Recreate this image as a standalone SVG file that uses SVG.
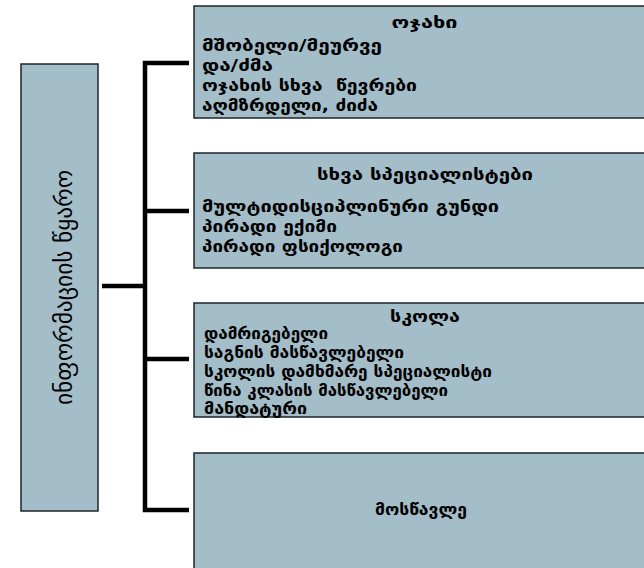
<svg xmlns="http://www.w3.org/2000/svg" width="644" height="568" viewBox="0 0 644 568">
<style>
.box{fill:#a3bdc9;stroke:#1e2428;stroke-width:1.5}
.t{font-family:"DejaVu Sans",sans-serif;font-weight:bold;font-size:16.5px;fill:#000;white-space:pre}
.c{text-anchor:middle}
.side{font-family:"DejaVu Sans",sans-serif;font-size:23px;fill:#000;text-anchor:middle}
.ln{stroke:#000;stroke-width:4.5;fill:none}
</style>
<rect width="644" height="568" fill="#fff"/>
<g id="connectors">
<path class="ln" d="M189,63 H145 V510 H189"/>
<path class="ln" d="M145,211 H189 M145,359 H189 M102,286 H145"/>
</g>
<g id="source">
<rect class="box" x="21" y="64" width="77" height="447"/>
<text class="side" transform="translate(72,287.5) rotate(-90)" textLength="235" lengthAdjust="spacingAndGlyphs">ინფორმაციის წყარო</text>
</g>
<g id="family">
<rect class="box" x="194" y="6" width="460" height="112"/>
<text class="t c" x="424.5" y="28" textLength="66" lengthAdjust="spacingAndGlyphs">ოჯახი</text>
<text class="t" x="202" y="51" textLength="180" lengthAdjust="spacingAndGlyphs">მშობელი/მეურვე</text>
<text class="t" x="202" y="71" textLength="71" lengthAdjust="spacingAndGlyphs">და/ძმა</text>
<text class="t" x="202" y="91" textLength="215" lengthAdjust="spacingAndGlyphs" xml:space="preserve">ოჯახის სხვა  წევრები</text>
<text class="t" x="202" y="111" textLength="176" lengthAdjust="spacingAndGlyphs">აღმზრდელი, ძიძა</text>
</g>
<g id="specialists">
<rect class="box" x="194" y="153" width="460" height="115"/>
<text class="t c" x="425" y="180" textLength="216" lengthAdjust="spacingAndGlyphs">სხვა სპეციალისტები</text>
<text class="t" x="202" y="212" textLength="297" lengthAdjust="spacingAndGlyphs">მულტიდისციპლინური გუნდი</text>
<text class="t" x="202" y="232" textLength="135" lengthAdjust="spacingAndGlyphs">პირადი ექიმი</text>
<text class="t" x="202" y="252" textLength="201" lengthAdjust="spacingAndGlyphs">პირადი ფსიქოლოგი</text>
</g>
<g id="school">
<rect class="box" x="194" y="303" width="460" height="114"/>
<text class="t c" x="425" y="322" textLength="70" lengthAdjust="spacingAndGlyphs">სკოლა</text>
<text class="t" x="204" y="339" textLength="124" lengthAdjust="spacingAndGlyphs">დამრიგებელი</text>
<text class="t" x="204" y="358" textLength="200" lengthAdjust="spacingAndGlyphs">საგნის მასწავლებელი</text>
<text class="t" x="204" y="377" textLength="288" lengthAdjust="spacingAndGlyphs">სკოლის დამხმარე სპეციალისტი</text>
<text class="t" x="204" y="396" textLength="244" lengthAdjust="spacingAndGlyphs">წინა კლასის მასწავლებელი</text>
<text class="t" x="204" y="414" textLength="103" lengthAdjust="spacingAndGlyphs">მანდატური</text>
</g>
<g id="student">
<rect class="box" x="194" y="453" width="460" height="125"/>
<text class="t c" x="421" y="515" textLength="92" lengthAdjust="spacingAndGlyphs">მოსწავლე</text>
</g>
</svg>
